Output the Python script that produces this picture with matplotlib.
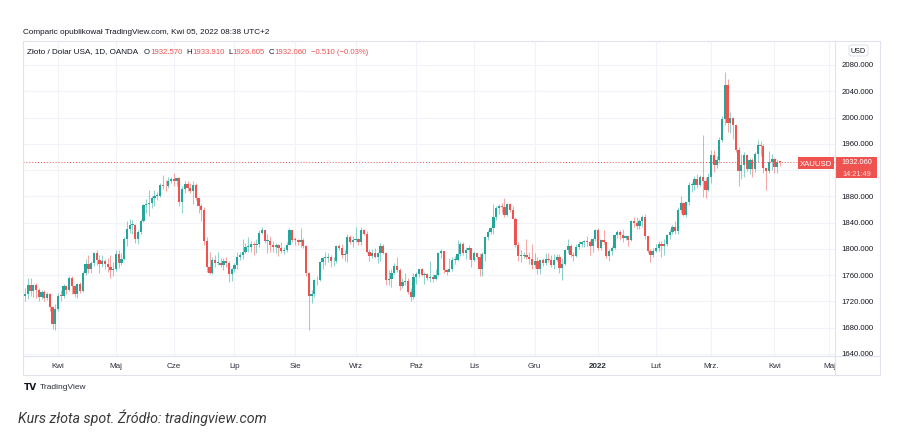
import matplotlib
matplotlib.use('Agg')
import matplotlib.pyplot as plt
import numpy as np
import pandas as pd
from matplotlib.patches import Rectangle, FancyBboxPatch
from matplotlib.lines import Line2D

# ---------------- data (XAUUSD daily, OANDA) ----------------
first_open = 1729.0
close = [
    1731, 1745, 1736, 1745, 1738, 1727, 1734, 1725, 1732, 1711, 1685, 1708,
    1729, 1728, 1743, 1737, 1756, 1744, 1732, 1746, 1736, 1764, 1777, 1770, 1779, 1793, 1783, 1777, 1781, 1777, 1773, 1768, 1769,
    1792, 1779, 1784, 1815, 1831, 1836, 1837, 1815, 1826, 1843, 1867, 1869, 1870, 1877, 1881, 1881, 1898, 1896, 1895, 1904, 1906,
    1903, 1908, 1871, 1891, 1899, 1893, 1888, 1898, 1877, 1866, 1859, 1812, 1773, 1764, 1783, 1779, 1779, 1776, 1781, 1779, 1761, 1770,
    1776, 1787, 1791, 1796, 1803, 1803, 1808, 1806, 1808, 1824, 1828, 1812, 1812, 1806, 1803, 1806, 1802, 1797, 1799, 1806, 1828, 1814,
    1813, 1810, 1813, 1804, 1763, 1729, 1731, 1752, 1753, 1780, 1786, 1786, 1787, 1781, 1781, 1804, 1802, 1791, 1792, 1818, 1810, 1814,
    1815, 1810, 1828, 1823, 1795, 1789, 1794, 1787, 1794, 1804, 1794, 1753, 1754, 1764, 1774, 1768, 1743, 1750, 1751, 1734, 1726, 1757,
    1761, 1769, 1760, 1762, 1756, 1757, 1754, 1760, 1794, 1797, 1768, 1765, 1769, 1783, 1783, 1792, 1807, 1793, 1798, 1801, 1783,
    1793, 1788, 1770, 1792, 1818, 1825, 1832, 1849, 1862, 1865, 1864, 1851, 1868, 1859, 1846, 1806, 1789, 1789, 1791, 1788, 1785, 1775,
    1782, 1769, 1783, 1779, 1785, 1783, 1775, 1783, 1787, 1771, 1777, 1799, 1804, 1791, 1789, 1803, 1808, 1810, 1811, 1810, 1805, 1815, 1829,
    1801, 1814, 1810, 1789, 1797, 1801, 1821, 1826, 1821, 1817, 1819, 1813, 1842, 1839, 1835, 1843, 1848, 1819, 1797, 1791, 1797,
    1801, 1807, 1805, 1807, 1821, 1826, 1834, 1827, 1859, 1870, 1852, 1871, 1898, 1898, 1906, 1898, 1909, 1903, 1889, 1909,
    1943, 1928, 1936, 1966, 1998, 2050, 1991, 2000, 1988, 1951, 1918, 1927, 1943, 1921, 1936, 1921, 1944, 1958, 1957, 1923, 1918, 1933, 1937,
    1925, 1932.57, 1932.06,
]
high = [
    1741, 1755, 1755, 1747, 1748, 1741, 1737, 1737, 1735, 1733, 1712, 1716,
    1733, 1738, 1746, 1745, 1758, 1758, 1745, 1748, 1750, 1766, 1784, 1790, 1782, 1795, 1798, 1790, 1790, 1784, 1786, 1790, 1780,
    1799, 1799, 1793, 1818, 1843, 1845, 1844, 1838, 1829, 1845, 1869, 1876, 1890, 1880, 1890, 1887, 1900, 1912, 1905, 1910, 1910,
    1916, 1910, 1909, 1895, 1903, 1903, 1900, 1903, 1900, 1877, 1869, 1864, 1818, 1795, 1788, 1790, 1795, 1786, 1786, 1788, 1781, 1771,
    1778, 1795, 1795, 1815, 1809, 1818, 1812, 1810, 1815, 1829, 1834, 1829, 1822, 1820, 1812, 1809, 1807, 1810, 1803, 1811, 1832, 1829,
    1818, 1815, 1832, 1816, 1806, 1765, 1738, 1754, 1758, 1782, 1788, 1795, 1793, 1791, 1787, 1806, 1808, 1808, 1799, 1823, 1821, 1820,
    1834, 1816, 1834, 1831, 1827, 1800, 1800, 1801, 1796, 1809, 1808, 1794, 1768, 1770, 1778, 1787, 1771, 1755, 1763, 1755, 1740, 1764,
    1765, 1770, 1771, 1765, 1764, 1782, 1762, 1770, 1796, 1800, 1797, 1770, 1786, 1787, 1789, 1814, 1810, 1811, 1803, 1806, 1802,
    1797, 1794, 1793, 1796, 1819, 1828, 1833, 1868, 1866, 1869, 1870, 1877, 1870, 1870, 1865, 1849, 1810, 1799, 1795, 1815, 1796, 1808,
    1793, 1787, 1785, 1786, 1793, 1793, 1790, 1792, 1792, 1792, 1786, 1800, 1815, 1807, 1796, 1807, 1812, 1812, 1814, 1820, 1814, 1817, 1831,
    1832, 1815, 1829, 1811, 1800, 1805, 1823, 1829, 1829, 1830, 1821, 1820, 1844, 1848, 1848, 1846, 1851, 1853, 1820, 1800, 1802,
    1807, 1812, 1812, 1815, 1823, 1831, 1836, 1843, 1864, 1880, 1872, 1872, 1902, 1902, 1911, 1914, 1913, 1974, 1909, 1915,
    1951, 1951, 1941, 1970, 2002, 2070, 2058, 2009, 2001, 1988, 1955, 1945, 1948, 1945, 1939, 1939, 1947, 1966, 1964, 1960, 1923, 1949, 1944,
    1938, 1937, 1933.91,
]
low = [
    1721, 1724, 1729, 1727, 1725, 1720, 1723, 1720, 1722, 1705, 1678, 1677,
    1705, 1720, 1725, 1731, 1736, 1731, 1727, 1725, 1733, 1735, 1760, 1764, 1763, 1774, 1776, 1764, 1773, 1770, 1765, 1756, 1759,
    1767, 1771, 1776, 1783, 1805, 1824, 1822, 1809, 1808, 1823, 1841, 1855, 1850, 1862, 1865, 1875, 1879, 1891, 1888, 1892, 1900,
    1896, 1895, 1865, 1855, 1885, 1888, 1885, 1868, 1875, 1855, 1843, 1806, 1765, 1761, 1761, 1772, 1775, 1773, 1768, 1773, 1750, 1751,
    1765, 1770, 1783, 1785, 1793, 1795, 1795, 1791, 1793, 1803, 1822, 1809, 1794, 1795, 1795, 1794, 1789, 1793, 1792, 1795, 1806, 1810,
    1806, 1806, 1803, 1801, 1759, 1677, 1717, 1726, 1745, 1751, 1770, 1776, 1780, 1772, 1774, 1779, 1799, 1786, 1781, 1780, 1808, 1803,
    1810, 1806, 1806, 1821, 1793, 1782, 1786, 1786, 1779, 1782, 1792, 1745, 1745, 1742, 1762, 1765, 1737, 1740, 1745, 1731, 1721, 1723,
    1746, 1757, 1758, 1746, 1753, 1750, 1750, 1752, 1759, 1786, 1763, 1760, 1765, 1767, 1777, 1781, 1789, 1790, 1784, 1784, 1772,
    1782, 1785, 1759, 1759, 1782, 1814, 1823, 1823, 1844, 1853, 1855, 1849, 1850, 1856, 1845, 1803, 1782, 1780, 1786, 1785, 1777, 1770,
    1771, 1762, 1762, 1774, 1775, 1780, 1772, 1770, 1781, 1763, 1753, 1775, 1794, 1788, 1781, 1788, 1800, 1803, 1803, 1804, 1790, 1795, 1812,
    1799, 1798, 1807, 1786, 1782, 1790, 1800, 1816, 1813, 1811, 1813, 1805, 1812, 1834, 1830, 1831, 1834, 1815, 1794, 1780, 1788,
    1795, 1797, 1788, 1791, 1805, 1815, 1823, 1822, 1822, 1855, 1850, 1849, 1867, 1886, 1890, 1892, 1895, 1879, 1878, 1888,
    1900, 1917, 1923, 1930, 1963, 1989, 1978, 1976, 1967, 1948, 1895, 1906, 1909, 1919, 1914, 1910, 1917, 1932, 1942, 1916, 1890, 1915, 1920,
    1916, 1916, 1926.605,
]
month_labels = ['Kwi', 'Maj', 'Cze', 'Lip', 'Sie', 'Wrz', 'Paź', 'Lis', 'Gru',
                '2022', 'Lut', 'Mrz.', 'Kwi', 'Maj']
price_ticks = [1640, 1680, 1720, 1760, 1800, 1840, 1880, 1920, 1960, 2000, 2040, 2080]
last_price = 1932.06
hdr_text = "Comparic opublikował TradingView.com, Kwi 05, 2022 08:38 UTC+2"
legend_title = "Złoto / Dolar USA, 1D, OANDA"
legend_keys = ["O", "H", "L", "C"]
legend_vals = ["1932.570", "1933.910", "1926.605", "1932.060"]
legend_change = "−0.510 (−0.03%)"
caption = "Kurs złota spot. Źródło: tradingview.com"

# trading calendar (weekdays, OANDA closed on Good Friday)
cal = pd.bdate_range('2021-03-16', '2022-05-31')
cal = cal[~cal.isin(pd.to_datetime(['2021-04-02', '2022-04-15']))]
n = len(close)
per = cal.to_period('M')
month_pos = [i for i in range(1, len(cal)) if per[i] != per[i - 1]]

# ---------------- styling ----------------
GREEN = '#26a69a'
RED = '#ef5350'
DARK = '#131722'
GRID = '#f0f3fa'
BORDER = '#e0e3eb'
TVFONT = ['Liberation Sans', 'DejaVu Sans']

W, H = 899, 439
fig = plt.figure(figsize=(W / 100, H / 100), dpi=100)
fig.patch.set_facecolor('white')


def fx(x):
    return x / W


def fy(y):
    return 1 - y / H


def axes_px(x0, y0, x1, y1):
    a = fig.add_axes([x0 / W, 1 - y1 / H, (x1 - x0) / W, (y1 - y0) / H])
    a.set_axis_off()
    return a


XL = (-0.73, 294.0)
YL = (1636.9, 2116.5)

ax = axes_px(23, 42, 835, 357)
ax.set_xlim(*XL)
ax.set_ylim(*YL)
for p in price_ticks:
    ax.axhline(p, color=GRID, lw=0.8, zorder=0)
for m in month_pos:
    ax.axvline(m, color=GRID, lw=0.8, zorder=0)

o = np.array([first_open] + close[:-1], dtype=float)
c = np.array(close, dtype=float)
h = np.array(high, dtype=float)
l = np.array(low, dtype=float)
idx = np.arange(n)
cols = np.where(c >= o, GREEN, RED)
ax.vlines(idx, l, h, colors=cols, lw=0.75, alpha=0.5, zorder=2)
body = np.maximum(np.abs(c - o), 1.3)
ax.bar(idx, body, bottom=np.minimum(o, c), width=0.82, color=cols, lw=0, zorder=3)

ax.axhline(last_price, color=RED, lw=0.7, ls=(0, (1, 2)), zorder=4)

# price scale (labels hidden behind the last-price badge are not shown, as in TradingView)
axp = axes_px(835, 42, 880, 357)
axp.set_ylim(*YL)
for p in price_ticks:
    if -30 < p - last_price < 20:
        continue
    axp.text(0.5, p, f"{p:.3f}", transform=axp.get_yaxis_transform(), ha='center', va='center',
             fontsize=5.6, color=DARK, family=TVFONT, clip_on=True)

# time scale
axt = axes_px(23, 357, 835, 376)
axt.set_xlim(*XL)
axt.set_ylim(0, 1)
for m, lab in zip(month_pos, month_labels):
    axt.text(m, 0.5, lab, ha='center', va='center', fontsize=5.8, color='#2a2e39', family=TVFONT,
             fontweight='bold' if lab == '2022' else 'normal', clip_on=True)

# frame
fig.add_artist(Rectangle((fx(23), fy(376)), (880 - 23) / W, (376 - 42) / H, transform=fig.transFigure,
                         fill=False, ec=BORDER, lw=0.8))
fig.add_artist(Line2D([fx(835), fx(835)], [fy(42), fy(376)], transform=fig.transFigure, color=BORDER, lw=0.8))
fig.add_artist(Line2D([fx(23), fx(880)], [fy(357), fy(357)], transform=fig.transFigure, color=BORDER, lw=0.8))

# USD badge
fig.add_artist(FancyBboxPatch((fx(849), fy(57)), 19 / W, 11 / H, boxstyle='round,pad=0,rounding_size=0.004',
                              transform=fig.transFigure, fc='white', ec=BORDER, lw=0.8))
fig.text(fx(858.5), fy(51.5), "USD", ha='center', va='center', fontsize=5.2, color=DARK, family=TVFONT)

# last price labels
fig.add_artist(Rectangle((fx(798), fy(170)), 36 / W, 12 / H, transform=fig.transFigure, fc=RED, ec='none'))
fig.text(fx(816), fy(164), "XAUUSD", ha='center', va='center', fontsize=5.6, color='white', family=TVFONT)
fig.add_artist(Rectangle((fx(836), fy(179)), 41 / W, 21 / H, transform=fig.transFigure, fc=RED, ec='none'))
fig.text(fx(856.5), fy(163.0), f"{last_price:.3f}", ha='center', va='center', fontsize=5.3, color='white', family=TVFONT)
fig.text(fx(856.5), fy(174.0), "14:21:49", ha='center', va='center', fontsize=5.3, color='#fde0e0', family=TVFONT)

# header
fig.text(fx(23), fy(33), hdr_text, ha='left', va='center', fontsize=5.9, color=DARK, family=TVFONT)

# legend, laid out piece by piece
renderer = fig.canvas.get_renderer()
pieces = [(legend_title, DARK, 6.0)]
for k, v in zip(legend_keys, legend_vals):
    pieces.append((k, DARK, 0.0))
    pieces.append((v, RED, 4.0))
pieces.append((legend_change, RED, 0))
xcur = 27.0
for i, (t, col, gap) in enumerate(pieces):
    fs = 5.9 if i == 0 else 5.6
    tx = fig.text(fx(xcur), fy(52), t, ha='left', va='center', fontsize=fs, color=col, family=TVFONT)
    xcur += tx.get_window_extent(renderer).width + gap

# TradingView logo
fig.text(fx(24), fy(387.5), "TV", ha='left', va='center', fontsize=6.5, color=DARK,
         family=['DejaVu Sans'], fontweight='bold')
fig.text(fx(40), fy(387.5), "TradingView", ha='left', va='center', fontsize=6.0, color='#2a2e39', family=TVFONT)

# caption
fig.text(fx(18), fy(417.5), caption, ha='left', va='center', fontsize=10.25, color='#3a3a3a',
         family=['Roboto', 'DejaVu Sans'], style='italic')

fig.savefig('out.png', dpi=100, facecolor='white')
